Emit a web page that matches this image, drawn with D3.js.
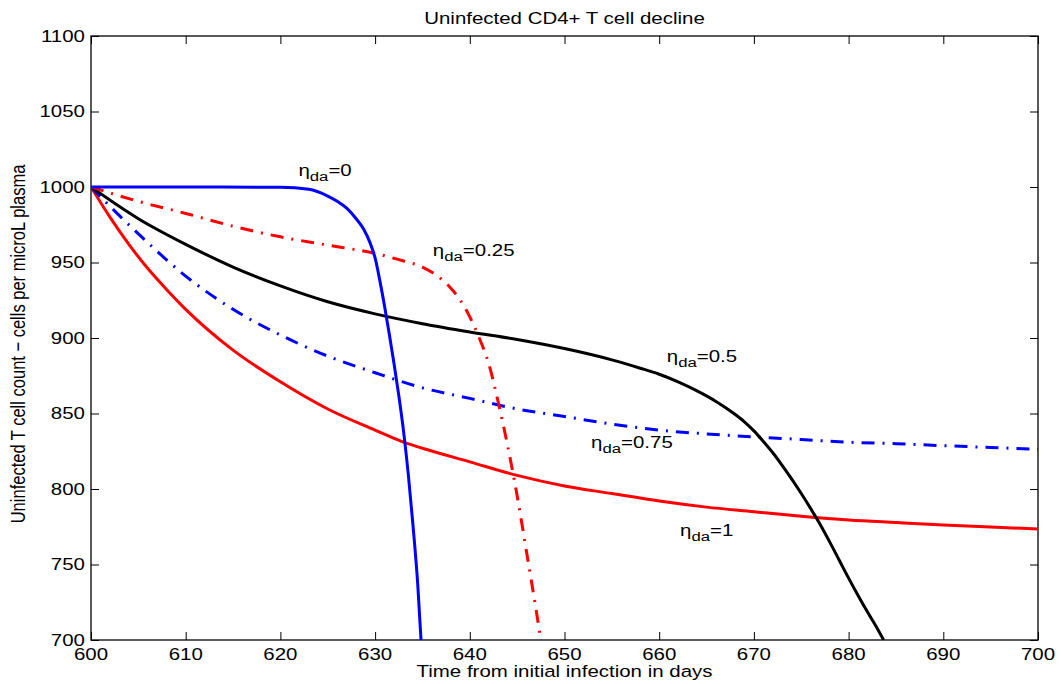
<!DOCTYPE html>
<html>
<head>
<meta charset="utf-8">
<script src="https://cdn.jsdelivr.net/npm/d3@7"></script>
<style>
  body { margin: 0; background: #fff; }
  svg { display: block; }
  text { font-family: "Liberation Sans", Arial, Helvetica, sans-serif; fill: #000; }
</style>
</head>
<body>
<svg id="chart" width="1061" height="684"></svg>
<script>
// Uninfected CD4+ T cell count (cells per microL plasma) against time (days)
const etaDa0 = [[600,1000],[610,1000],[620,999.8],[623,998.5],[625,994],[626,990.5],[627,986],[628,979],[628.8,972],[629.5,962.5],[630,953],[630.5,938],[631,921],[631.5,902.5],[632,883],[632.5,862],[633,838.5],[633.5,810],[634,776],[634.5,737],[634.85,700]];
const etaDa025 = [[600,1000],[605,990.5],[610,982.5],[615,974],[620,967],[625,961.5],[630,956],[633,951],[635,947],[636,943.5],[637,939],[638,933],[639,925],[640,914],[641,900],[642,883],[643,857.5],[644,828.5],[645,795.5],[646,758],[647,720],[647.5,700]];
const etaDa05 = [[600,1000],[605,979],[610,962],[615,947],[620,934.5],[625,924],[630,916],[635,909.5],[640,904],[645,899],[650,893],[655,885.5],[658,880],[660,876],[662,871],[664,865],[666,858],[668,849.5],[669,844.5],[670,838.5],[671,831.5],[672,824],[673,815.5],[674,806.5],[675,797],[676,787],[677,776.5],[678,765],[679,753],[680,741],[681,729.5],[682,718.5],[683,708],[683.7,700]];
const etaDa075 = [[600,1000],[603,981],[605,969],[610,941],[615,919],[620,902],[625,888],[630,877],[635,867],[640,860],[645,853],[650,848],[655,843],[660,839],[665,836.5],[670,834.5],[675,832.8],[680,831],[685,830],[690,828.7],[695,827.5],[700,826.3]];
const etaDa1 = [[600,1000],[602,980],[604,962],[606,946],[608,932],[610,919],[615,892],[620,871],[625,853],[630,839],[633,831],[635,827],[640,818],[645,809],[650,802],[655,797],[660,792],[665,788],[670,785],[675,782],[680,779.5],[685,777.8],[690,776.2],[695,774.8],[700,773.5]];

const xTicks = [600,610,620,630,640,650,660,670,680,690,700];
const yTicks = [700,750,800,850,900,950,1000,1050,1100];

// curve annotations: eta_da value and anchor (day, count) of the label's start
const labelValues = ["0","0.25","0.5","0.75","1"];
const labelDays   = [621.9, 636.1, 660.8, 652.8, 662.2];
const labelCounts = [1007.3, 954.3, 884.1, 827.2, 768.9];

const titleText = "Uninfected CD4+ T cell decline";
const xTitle = "Time from initial infection in days";
const yTitle = "Uninfected  T cell count \u2212 cells per microL plasma";

const plot = { left: 91, right: 1038, top: 36, bottom: 640 };
const SX = 1.24;     // horizontal stretch of the lettering
const FS = 16.5;

const svg = d3.select("#chart");
const x = d3.scaleLinear().domain([600, 700]).range([plot.left, plot.right]);
const y = d3.scaleLinear().domain([700, 1100]).range([plot.bottom, plot.top]);

svg.append("defs").append("clipPath").attr("id", "plotClip")
  .append("rect").attr("x", plot.left).attr("y", plot.top)
  .attr("width", plot.right - plot.left).attr("height", plot.bottom - plot.top);

// axes with inward ticks on all four sides
function styleAxis(g) {
  g.select(".domain").remove();
  g.selectAll(".tick line").attr("stroke", "#000").attr("stroke-width", 1);
}
svg.append("g").attr("transform", `translate(0,${plot.bottom})`)
  .call(d3.axisBottom(x).tickValues(xTicks).tickSize(-8).tickFormat(""))
  .call(styleAxis);
svg.append("g").attr("transform", `translate(0,${plot.top})`)
  .call(d3.axisTop(x).tickValues(xTicks).tickSize(-8).tickFormat(""))
  .call(styleAxis);
svg.append("g").attr("transform", `translate(${plot.left},0)`)
  .call(d3.axisLeft(y).tickValues(yTicks).tickSize(-8).tickFormat(""))
  .call(styleAxis);
svg.append("g").attr("transform", `translate(${plot.right},0)`)
  .call(d3.axisRight(y).tickValues(yTicks).tickSize(-8).tickFormat(""))
  .call(styleAxis);

// tick labels
svg.append("g").selectAll("text").data(xTicks).join("text")
  .attr("transform", d => `translate(${x(d)},${plot.bottom + 20}) scale(${SX},1)`)
  .attr("text-anchor", "middle").attr("font-size", FS).text(d => d);
svg.append("g").selectAll("text").data(yTicks).join("text")
  .attr("transform", d => `translate(${plot.left - 6},${y(d)}) scale(${SX},1)`)
  .attr("text-anchor", "end").attr("dy", "0.36em").attr("font-size", FS).text(d => d);

// frame
svg.append("rect").attr("x", plot.left).attr("y", plot.top)
  .attr("width", plot.right - plot.left).attr("height", plot.bottom - plot.top)
  .attr("fill", "none").attr("stroke", "#000").attr("stroke-width", 1.3);

// curves
const line = d3.line().x(d => x(d[0])).y(d => y(d[1])).curve(d3.curveMonotoneX);
const series = [
  { data: etaDa1,   color: "#ff0000", dash: null },
  { data: etaDa075, color: "#0000ff", dash: "13,8,2,8" },
  { data: etaDa05,  color: "#000000", dash: null },
  { data: etaDa025, color: "#ff0000", dash: "13,8,2,8" },
  { data: etaDa0,   color: "#0000ff", dash: null }
];
const curves = svg.append("g").attr("clip-path", "url(#plotClip)");
series.forEach(s => {
  curves.append("path").datum(s.data)
    .attr("d", line).attr("fill", "none")
    .attr("stroke", s.color).attr("stroke-width", 3)
    .attr("stroke-dasharray", s.dash);
});

// curve annotations
labelValues.forEach((v, i) => {
  const t = svg.append("text")
    .attr("transform", `translate(${x(labelDays[i])},${y(labelCounts[i])}) scale(${SX},1)`)
    .attr("font-size", FS);
  t.append("tspan").text("\u03b7");
  t.append("tspan").attr("dy", 5).attr("font-size", 13.5).text("da");
  t.append("tspan").attr("dy", -5).text("=" + v);
});

// titles
svg.append("text")
  .attr("transform", `translate(${(plot.left + plot.right) / 2},24) scale(${SX},1)`)
  .attr("text-anchor", "middle").attr("font-size", FS).text(titleText);
svg.append("text")
  .attr("transform", `translate(${(plot.left + plot.right) / 2},677) scale(${SX},1)`)
  .attr("text-anchor", "middle").attr("font-size", FS).text(xTitle);
svg.append("text")
  .attr("transform", `translate(25,344) scale(${SX},1) rotate(-90)`)
  .attr("text-anchor", "middle").attr("font-size", FS).text(yTitle);
</script>
</body>
</html>
